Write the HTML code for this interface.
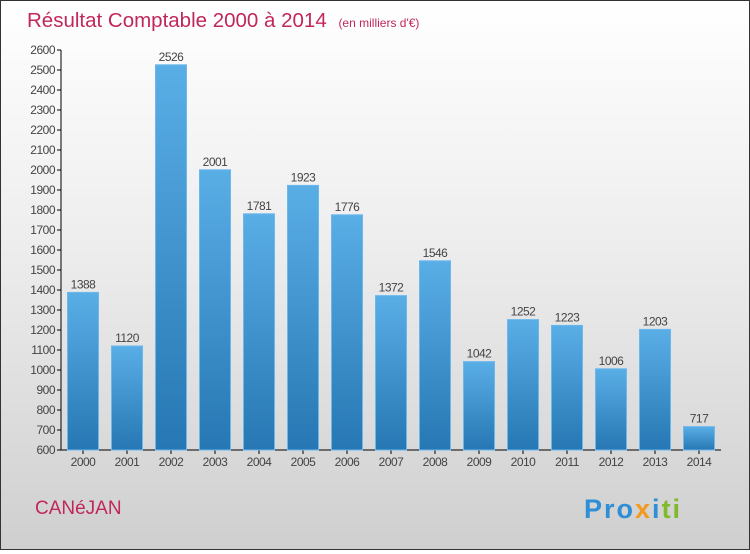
<!DOCTYPE html>
<html><head><meta charset="utf-8"><style>
body{margin:0;width:750px;height:550px;overflow:hidden;font-family:"Liberation Sans",sans-serif}
#c{position:absolute;left:0;top:0;width:748px;height:548px;border:1px solid #333;background:linear-gradient(#ffffff 0%,#ededed 45%,#cfcfcf 100%)}
</style></head><body>
<div id="c">
<svg width="748" height="548" xmlns="http://www.w3.org/2000/svg">
<defs><linearGradient id="bg" x1="0" y1="0" x2="0" y2="1"><stop offset="0" stop-color="#5aaee6"/><stop offset="1" stop-color="#2677b3"/></linearGradient></defs>
<text x="26" y="26" font-size="20.5" fill="#c0285a">Résultat Comptable 2000 à 2014 <tspan font-size="12" dx="6">(en milliers d'€)</tspan></text>
<g id="axes"></g><g id="bars"></g>
<text x="34" y="513" font-size="19" fill="#c0285a">CANéJAN</text>
<text x="583" y="517" font-size="27" font-weight="bold" letter-spacing="2"><tspan fill="#2f8fd6">Pro</tspan><tspan fill="#f29a1e">x</tspan><tspan fill="#2f8fd6">i</tspan><tspan fill="#7dbb2a">ti</tspan></text>
</svg></div>
<script>
const years=["2000","2001","2002","2003","2004","2005","2006","2007","2008","2009","2010","2011","2012","2013","2014"];
const values=[1388,1120,2526,2001,1781,1923,1776,1372,1546,1042,1252,1223,1006,1203,717];
const ticks=[600,700,800,900,1000,1100,1200,1300,1400,1500,1600,1700,1800,1900,2000,2100,2200,2300,2400,2500,2600];
const NS="http://www.w3.org/2000/svg";
const y=v=>449-(v-600)*0.2, x0=60, step=44, bw=31;
const ax=document.getElementById('axes'), bg=document.getElementById('bars');
function mk(t,a,p){const e=document.createElementNS(NS,t);for(const k in a)e.setAttribute(k,a[k]);p.appendChild(e);return e;}
let l=mk('line',{x1:x0,y1:y(2600),x2:x0,y2:y(600),stroke:'#000'},ax);


l=mk('line',{x1:x0,y1:y(600),x2:x0+step*15,y2:y(600),stroke:'#000'},ax);


ticks.forEach(t=>{mk('line',{x1:x0-4,y1:y(t),x2:x0,y2:y(t),stroke:'#000'},ax);
 const tx=mk('text',{x:x0-6,y:y(t)+4,'font-size':12,'text-anchor':'end',fill:'#444','letter-spacing':'-0.5'},ax);tx.textContent=t;
 
 });
years.forEach((yr,i)=>{const cx=x0+step*i+22,v=values[i];
 const r=mk('rect',{x:cx-bw/2,y:y(v),width:bw,height:y(600)-y(v),fill:'url(#bg)',stroke:'#6bb8ee','stroke-width':1},bg);
 
 
 mk('line',{x1:cx,y1:y(600),x2:cx,y2:y(600)+4,stroke:'#000'},ax);
 const xl=mk('text',{x:cx,y:y(600)+16,'font-size':12,'text-anchor':'middle',fill:'#444','letter-spacing':'-0.5'},ax);xl.textContent=yr;
 
 
 const vl=mk('text',{x:cx,y:y(v)-4,'font-size':12,'text-anchor':'middle',fill:'#444','letter-spacing':'-0.5'},bg);vl.textContent=v;
 
 });
</script>
</body></html>
